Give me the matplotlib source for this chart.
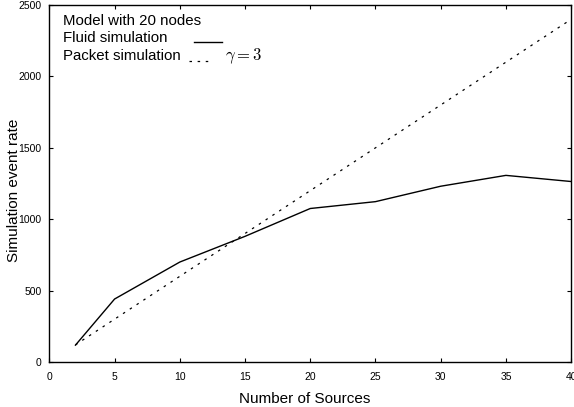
import numpy as np
import matplotlib.pyplot as plt

plt.rcParams['font.family'] = ['Liberation Sans', 'DejaVu Sans']
plt.rcParams['mathtext.fontset'] = 'cm'

sources = [2, 5, 10, 15, 20, 25, 30, 35, 40]
fluid_rate = [118, 441, 700, 880, 1075, 1123, 1231, 1307, 1264]
packet_rate = [120, 300, 600, 900, 1200, 1500, 1800, 2100, 2400]

dotted = (0, (2, 4.5))

fig = plt.figure(figsize=(5.74, 4.07), dpi=100)
ax = fig.add_axes([0.086, 0.1106, 0.909, 0.877])

ax.plot(sources, fluid_rate, color='black', linestyle='solid', linewidth=1)
ax.plot(sources, packet_rate, color='black', linestyle=dotted, linewidth=0.9)

ax.set_xlim(0, 40)
ax.set_ylim(0, 2500)
ax.set_xticks(np.arange(0, 41, 5))
ax.set_yticks(np.arange(0, 2501, 500))
ax.tick_params(direction='in', top=True, right=True, labelsize=7.5, length=3, width=0.8)
ax.tick_params(axis='x', pad=7)
ax.tick_params(axis='y', pad=5.5)
for s in ax.spines.values():
    s.set_linewidth(1)

ax.set_xlabel("Number of Sources", fontsize=11)
ax.xaxis.set_label_coords(0.49, -0.084)
ax.set_ylabel("Simulation event rate", fontsize=11, va='center')
ax.yaxis.set_label_coords(-0.068, 0.482)

# key, drawn gnuplot style: text on the left, sample on the right
ax.text(0.0265, 0.944, "Model with 20 nodes", transform=ax.transAxes, fontsize=10.8, va='baseline')
ax.text(0.0265, 0.8955, "Fluid simulation", transform=ax.transAxes, fontsize=10.8, va='baseline')
ax.text(0.0265, 0.846, "Packet simulation", transform=ax.transAxes, fontsize=10.8, va='baseline')
ax.plot([0.2771, 0.3302], [0.897, 0.897], color='black', linewidth=1, transform=ax.transAxes)
ax.plot([0.2675, 0.313], [0.844, 0.844], color='black', linewidth=0.9, linestyle=dotted, transform=ax.transAxes)
ax.text(0.3365, 0.846, r"$\gamma = 3$", transform=ax.transAxes, fontsize=12, va='baseline')

fig.savefig("out.png", dpi=100)
